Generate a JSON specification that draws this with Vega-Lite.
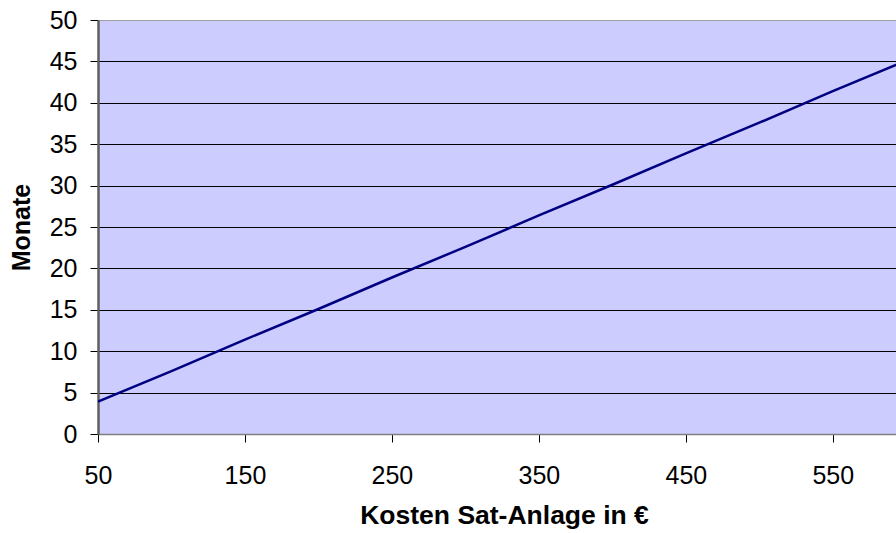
{
  "$schema": "https://vega.github.io/schema/vega-lite/v6.json",
  "autosize": {"type": "none"},
  "padding": {"left": 98, "top": 20, "right": 0, "bottom": 99},
  "width": 798,
  "height": 414,
  "background": "white",
  "config": {
    "view": {"fill": "#CCCCFF", "stroke": null},
    "font": "Liberation Sans"
  },
  "data": {
    "values": [
      {"kosten": 50, "monate": 3.9},
      {"kosten": 100, "monate": 7.6},
      {"kosten": 150, "monate": 11.4},
      {"kosten": 200, "monate": 15.1},
      {"kosten": 250, "monate": 18.9},
      {"kosten": 300, "monate": 22.6},
      {"kosten": 350, "monate": 26.4},
      {"kosten": 400, "monate": 30.1},
      {"kosten": 450, "monate": 33.9},
      {"kosten": 500, "monate": 37.6},
      {"kosten": 550, "monate": 41.4},
      {"kosten": 600, "monate": 45.1}
    ]
  },
  "mark": {"type": "line", "color": "#000080", "strokeWidth": 2.5, "clip": true},
  "encoding": {
    "x": {
      "field": "kosten",
      "type": "quantitative",
      "scale": {"domain": [50, 593], "nice": false, "zero": false},
      "axis": {
        "title": "Kosten Sat-Anlage in €",
        "values": [50, 150, 250, 350, 450, 550],
        "grid": false,
        "labelFlush": false,
        "labelOverlap": false,
        "domainColor": "#808080",
        "domainWidth": 1.5,
        "tickColor": "black",
        "tickSize": 8,
        "tickWidth": 1,
        "labelFontSize": 25,
        "labelColor": "black",
        "labelPadding": 21,
        "labelFont": "Liberation Sans",
        "titleFont": "Liberation Sans",
        "titleFontSize": 26.5,
        "titleFontWeight": "bold",
        "titleColor": "black",
        "titleX": 406,
        "titlePadding": 14
      }
    },
    "y": {
      "field": "monate",
      "type": "quantitative",
      "scale": {"domain": [0, 50], "nice": false},
      "axis": {
        "title": "Monate",
        "values": [0, 5, 10, 15, 20, 25, 30, 35, 40, 45, 50],
        "grid": true,
        "labelFlush": false,
        "labelOverlap": false,
        "gridColor": {"condition": {"test": "datum.value === 50", "value": "#a0a0a0"}, "value": "black"},
        "gridWidth": 1,
        "gridOpacity": 1,
        "domainColor": "#606060",
        "domainWidth": 2.5,
        "tickColor": "black",
        "tickSize": 8,
        "tickWidth": 1,
        "labelFontSize": 25,
        "labelColor": "black",
        "labelPadding": 13,
        "labelFont": "Liberation Sans",
        "titleFont": "Liberation Sans",
        "titleFontSize": 25,
        "titleFontWeight": "bold",
        "titleColor": "black",
        "titlePadding": 15
      }
    }
  }
}
